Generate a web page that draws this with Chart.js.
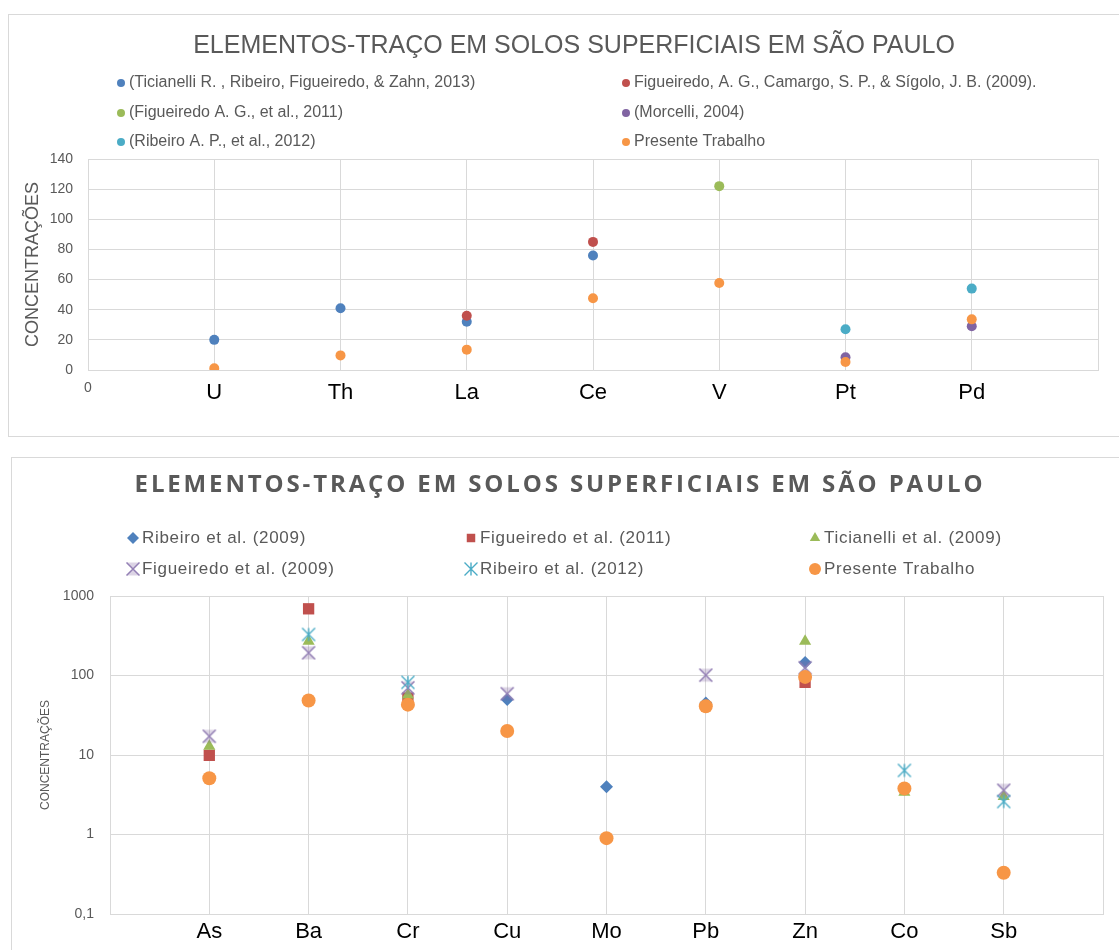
<!DOCTYPE html>
<html>
<head>
<meta charset="utf-8">
<script src="https://cdn.jsdelivr.net/npm/chart.js@4.4.1/dist/chart.umd.min.js"></script>
<style>
body{margin:0;background:#fff;width:1119px;height:950px;overflow:hidden;position:relative}
.panel{position:absolute;border:1px solid #d9d9d9;background:#fff}
#p1{left:8px;top:14px;width:1115px;height:421px}
#p2{left:11px;top:457px;width:1115px;height:500px}
canvas{display:block}
</style>
</head>
<body>
<div class="panel" id="p1"><canvas id="c1" width="1115" height="421"></canvas></div>
<div class="panel" id="p2"><canvas id="c2" width="1115" height="500"></canvas></div>
<script>
const FONT="'Liberation Sans', Arial, sans-serif"
const GRID='#d9d9d9'
const GRAY='#595959'

// chart 1 - linear scale
const elements1=['U','Th','La','Ce','V','Pt','Pd']
const ticianelli2013=[20,41,32,76,null,null,null]
const figueiredo2009a=[null,null,36,85,null,null,null]
const figueiredo2011a=[null,null,null,null,122,null,null]
const morcelli2004=[null,null,null,null,null,8.4,29]
const ribeiro2012a=[null,null,null,null,null,27,54]
const presente1=[1.1,9.7,13.5,47.6,57.7,5.3,33.6]

// chart 2 - log scale
const elements2=['As','Ba','Cr','Cu','Mo','Pb','Zn','Co','Sb']
const ribeiro2009=[null,null,null,50,4,45,146,null,null]
const figueiredo2011b=[9.9,690,52,null,null,null,82,null,null]
const ticianelli2009=[12.9,270,57,null,null,null,270,3.4,3.0]
const figueiredo2009b=[17.2,193,70,59,null,101,125,null,3.6]
const ribeiro2012b=[null,328,82,null,null,null,null,6.4,2.6]
const presente2=[5.1,48.5,43,20,0.9,41,96,3.8,0.33]
const logTicks=[0.1,1,10,100,1000]

const BLUE='#4f81bd',RED='#c0504d',GREEN='#9bbb59',PURPLE='#8064a2',TEAL='#4bacc6',ORANGE='#f79646'

// excel style "x" marker (hourglass fill) and "*" marker
function markerX(r,stroke,fill){
    const s=Math.ceil(r*2+3)
    const c=document.createElement('canvas')
    c.width=s;c.height=s
    const g=c.getContext('2d')
    const m=s/2
    g.beginPath()
    g.moveTo(m-r,m-r);g.lineTo(m+r,m-r);g.lineTo(m-r,m+r);g.lineTo(m+r,m+r);g.closePath()
    g.fillStyle=fill;g.fill()
    g.beginPath()
    g.moveTo(m-r,m-r);g.lineTo(m+r,m+r);g.moveTo(m+r,m-r);g.lineTo(m-r,m+r)
    g.strokeStyle=stroke;g.lineWidth=1.5;g.stroke()
    return c
}
function markerStar(r,stroke){
    const s=Math.ceil(r*2+3)
    const c=document.createElement('canvas')
    c.width=s;c.height=s
    const g=c.getContext('2d')
    const m=s/2
    g.beginPath()
    g.moveTo(m-r,m-r);g.lineTo(m+r,m+r);g.moveTo(m+r,m-r);g.lineTo(m-r,m+r)
    g.moveTo(m,m-r);g.lineTo(m,m+r)
    g.strokeStyle=stroke;g.lineWidth=1.4;g.stroke()
    return c
}

function points(values){
    const pts=[]
    values.forEach((v,i)=>{
        if(v!==null) pts.push({x:i+1,y:v})
    })
    return pts
}

function makeSet(label,values,color,style,radius){
    return {
        label,
        data:points(values),
        pointStyle:style,
        pointRadius:radius,
        pointHoverRadius:radius,
        pointBackgroundColor:color,
        pointBorderColor:color,
        pointBorderWidth:0,
        backgroundColor:color,
        borderColor:color
    }
}

// title + legend in a fixed grid, like the spreadsheet one
const header={
    id:'header',
    afterDraw(chart,args,o){
        const ctx=chart.ctx
        const spacing='letterSpacing' in ctx
        ctx.save()
        ctx.fillStyle=o.color
        ctx.font=o.titleFont
        ctx.textAlign='center'
        ctx.textBaseline='middle'
        if(o.titleWidth && spacing){
            const nat=ctx.measureText(o.title).width
            ctx.letterSpacing=((o.titleWidth-nat)/(o.title.length-1))+'px'
        }
        ctx.fillText(o.title,o.titleX,o.titleY)
        if(spacing) ctx.letterSpacing='0px'

        chart.data.datasets.forEach((ds,i)=>{
            const col=i%o.cols
            const row=Math.floor(i/o.cols)
            const x=o.colX[col]
            const y=o.rowY[row]
            ctx.fillStyle=ds.pointBackgroundColor
            ctx.strokeStyle=ds.pointBorderColor
            ctx.lineWidth=1
            Chart.helpers.drawPoint(ctx,{pointStyle:ds.pointStyle,radius:o.markerR,rotation:0,borderWidth:0},x,y)
            ctx.fillStyle=o.color
            ctx.font=o.legendFont
            ctx.textAlign='left'
            if(spacing) ctx.letterSpacing=(o.legendSpacing||0)+'px'
            ctx.fillText(ds.label,x+o.gap,y)
            if(spacing) ctx.letterSpacing='0px'
        })
        ctx.restore()
    }
}

const sets1=[
    makeSet('(Ticianelli R. , Ribeiro, Figueiredo, & Zahn, 2013)',ticianelli2013,BLUE,'circle',5),
    makeSet('Figueiredo, A. G., Camargo, S. P., & Sígolo, J. B. (2009).',figueiredo2009a,RED,'circle',5),
    makeSet('(Figueiredo A. G., et al., 2011)',figueiredo2011a,GREEN,'circle',5),
    makeSet('(Morcelli, 2004)',morcelli2004,PURPLE,'circle',5),
    makeSet('(Ribeiro A. P., et al., 2012)',ribeiro2012a,TEAL,'circle',5),
    makeSet('Presente Trabalho',presente1,ORANGE,'circle',5)
]
sets1.forEach((s,i)=>s.order=sets1.length-i)

new Chart(document.getElementById('c1'),{
    type:'scatter',
    data:{datasets:sets1},
    plugins:[header],
    options:{
        responsive:false,
        animation:false,
        layout:{padding:{top:144,right:26,left:0,bottom:0}},
        plugins:{
            legend:{display:false},
            tooltip:{enabled:false},
            header:{
                title:'ELEMENTOS-TRAÇO EM SOLOS SUPERFICIAIS EM SÃO PAULO',
                titleFont:'25px '+FONT,
                titleX:565,titleY:31,
                color:GRAY,
                legendFont:'16px '+FONT,
                cols:2,colX:[112,617],rowY:[68,98,127],
                markerR:4,gap:8
            }
        },
        scales:{
            x:{
                type:'linear',min:0,max:8,
                afterFit:s=>{s.height=66},
                grid:{color:GRID,drawTicks:false},
                border:{color:GRID},
                ticks:{
                    stepSize:1,padding:10,
                    callback:v=>v===0?'0':(elements1[v-1]||''),
                    font:c=>c.index===0?{family:FONT,size:14}:{family:FONT,size:22},
                    color:c=>c.index===0?GRAY:'#000'
                }
            },
            y:{
                min:0,max:140,
                afterFit:s=>{s.width=79},
                grid:{color:GRID,drawTicks:false},
                border:{color:GRID},
                ticks:{stepSize:20,padding:15,color:GRAY,font:{family:FONT,size:14}},
                title:{display:true,text:'CONCENTRAÇÕES',color:GRAY,font:{family:FONT,size:18},padding:{top:13,bottom:0}}
            }
        }
    }
})

const sets2=[
    makeSet('Ribeiro et al. (2009)',ribeiro2009,BLUE,'rectRot',6.5),
    makeSet('Figueiredo et al. (2011)',figueiredo2011b,RED,'rect',8),
    makeSet('Ticianelli et al. (2009)',ticianelli2009,GREEN,'triangle',7),
    makeSet('Figueiredo et al. (2009)',figueiredo2009b,'#9480b5',markerX(6.5,'#9480b5','rgba(128,100,162,0.28)'),7),
    makeSet('Ribeiro et al. (2012)',ribeiro2012b,TEAL,markerStar(6.5,TEAL),7),
    makeSet('Presente Trabalho',presente2,ORANGE,'circle',7)
]
sets2.forEach((s,i)=>s.order=sets2.length-i)

new Chart(document.getElementById('c2'),{
    type:'scatter',
    data:{datasets:sets2},
    plugins:[header],
    options:{
        responsive:false,
        animation:false,
        layout:{padding:{top:138,right:24,left:0,bottom:0}},
        plugins:{
            legend:{display:false},
            tooltip:{enabled:false},
            header:{
                title:'ELEMENTOS-TRAÇO EM SOLOS SUPERFICIAIS EM SÃO PAULO',
                titleFont:"bold 24px 'Open Sans', sans-serif",
                titleWidth:848,
                titleX:548,titleY:27,
                color:GRAY,
                legendFont:'17px '+FONT,
                legendSpacing:0.7,
                cols:3,colX:[121,459,803],rowY:[80,111],
                markerR:6,gap:9
            }
        },
        scales:{
            x:{
                type:'linear',min:0,max:10,
                afterFit:s=>{s.height=44},
                grid:{color:GRID,drawTicks:false},
                border:{color:GRID},
                ticks:{
                    stepSize:1,padding:5,
                    callback:v=>elements2[v-1]||'',
                    font:{family:FONT,size:22},
                    color:'#000'
                }
            },
            y:{
                type:'logarithmic',min:0.1,max:1000,
                afterBuildTicks:s=>{s.ticks=logTicks.map(v=>({value:v}))},
                afterFit:s=>{s.width=98},
                grid:{color:GRID,drawTicks:false},
                border:{color:GRID},
                ticks:{padding:16,color:GRAY,font:{family:FONT,size:14},callback:v=>String(v).replace('.',',')},
                title:{display:true,text:'CONCENTRAÇÕES',color:GRAY,font:{family:FONT,size:12},padding:{top:26,bottom:0}}
            }
        }
    }
})
</script>
</body>
</html>
